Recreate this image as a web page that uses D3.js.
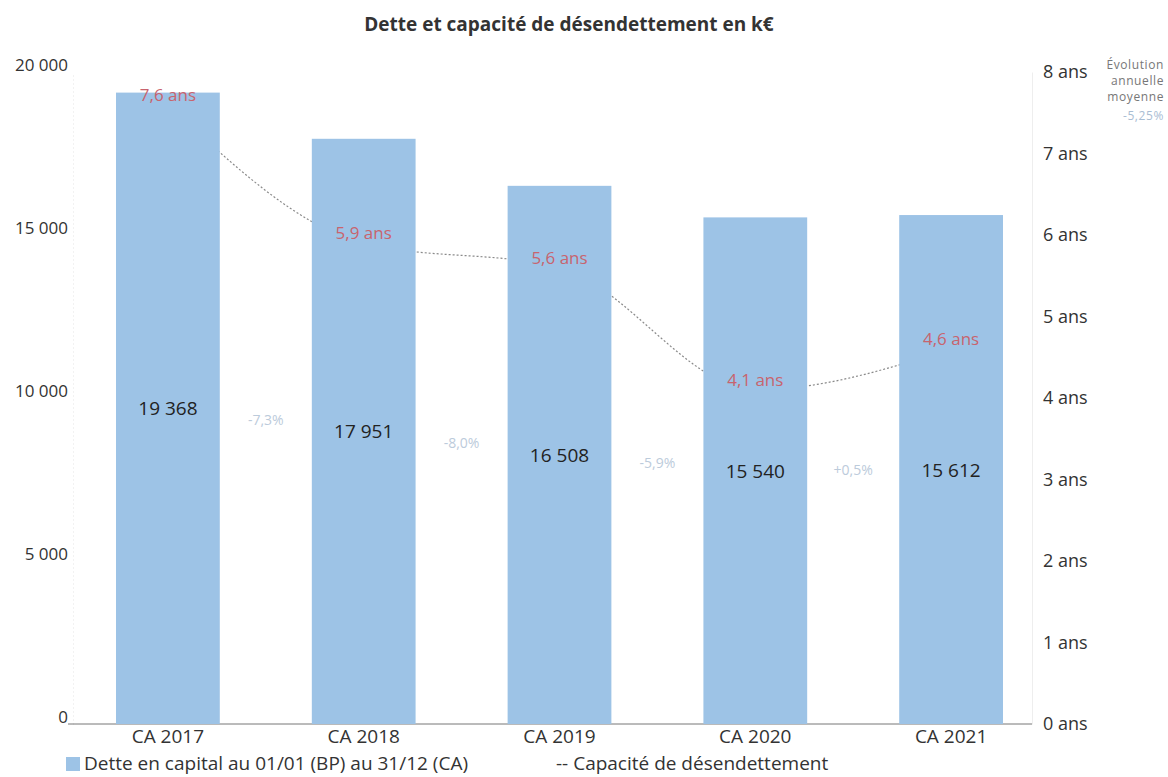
<!DOCTYPE html>
<meta charset="utf-8">
<style>
    html, body { margin: 0; padding: 0; background: #fff; }
    svg, svg text { font-family: 'Open Sans', sans-serif; }
    .title { font-size: 19px; font-weight: bold; fill: #333; }
    .tick text { font-size: 17px; fill: #333; font-family: 'Open Sans', sans-serif; }
    .right .tick text { font-size: 18px; }
    .valLabel { font-size: 19px; fill: #222; }
    .ansLabel { font-size: 17px; fill: #c8646e; }
    .pctLabel { font-size: 14px; fill: #bccbdb; }
    .legend { font-size: 19px; fill: #333; }
    .xLabel { font-size: 19px; fill: #333; }
    .note { font-size: 12px; letter-spacing: 0.6px; }
</style>
<html>
<head>
    <title>Dette et capacité de désendettement</title>
    <script src="https://d3js.org/d3.v7.min.js"></script>
</head>
<body>
<div id="chart"></div>
<script>
    // data
    var years = ["CA 2017", "CA 2018", "CA 2019", "CA 2020", "CA 2021"];
    var dette = [19368, 17951, 16508, 15540, 15612];
    var capacite = [7.6, 5.9, 5.6, 4.1, 4.6];
    var evolution = ["-7,3%", "-8,0%", "-5,9%", "+0,5%"];
    var leftTicks = [0, 5000, 10000, 15000, 20000];
    var rightTicks = [0, 1, 2, 3, 4, 5, 6, 7, 8];

    var width = 1168, height = 777;
    var svg = d3.select("#chart").append("svg")
        .attr("width", width).attr("height", height);

    var x = d3.scaleBand().domain(years).range([70, 1049]).paddingInner(0.47).paddingOuter(0.235);
    var yL = d3.scaleLinear().domain([0, 20000]).range([724, 72]);
    var yR = d3.scaleLinear().domain([0, 8]).range([724, 72]);

    var fmt = function (v) { return d3.format(",")(v).replace(/,/g, " "); };

    svg.append("text").attr("class", "title")
        .attr("x", 569).attr("y", 31).attr("text-anchor", "middle")
        .text("Dette et capacité de désendettement en k€");

    // left axis
    var gL = svg.append("g").attr("transform", "translate(73,0)")
        .call(d3.axisLeft(yL).tickValues(leftTicks).tickFormat(fmt).tickSize(0).tickPadding(5));
    gL.attr("font-family", null).attr("font-size", null);
    gL.select(".domain").attr("stroke", "#e4e4e4").attr("stroke-dasharray", "1,3");
    gL.selectAll(".tick text").attr("dy", "-0.1em");

    // right axis
    var gR = svg.append("g").attr("class", "right").attr("transform", "translate(1032,0)")
        .call(d3.axisRight(yR).tickValues(rightTicks).tickFormat(function (d) { return d + " ans"; }).tickSize(0).tickPadding(11));
    gR.attr("font-family", null).attr("font-size", null);
    gR.select(".domain").attr("stroke", "#eeeeee");

    // baseline
    svg.append("line").attr("x1", 68).attr("x2", 1032)
        .attr("y1", yL(0)).attr("y2", yL(0))
        .attr("stroke", "#777").attr("stroke-width", 1);

    // capacity line, drawn behind bars
    var line = d3.line()
        .x(function (d, i) { return x(years[i]) + x.bandwidth() / 2; })
        .y(function (d) { return yR(d); })
        .curve(d3.curveMonotoneX);
    svg.append("path").datum(capacite)
        .attr("d", line).attr("fill", "none")
        .attr("stroke", "#8a8a8a").attr("stroke-width", 1.2)
        .attr("stroke-dasharray", "2,2");

    // bars
    svg.selectAll(".bar").data(dette).enter().append("rect")
        .attr("class", "bar")
        .attr("x", function (d, i) { return x(years[i]); })
        .attr("width", x.bandwidth())
        .attr("y", function (d) { return yL(d); })
        .attr("height", function (d) { return yL(0) - yL(d); })
        .attr("fill", "#9dc3e6");

    // values inside bars
    svg.selectAll(".valLabel").data(dette).enter().append("text")
        .attr("class", "valLabel")
        .attr("x", function (d, i) { return x(years[i]) + x.bandwidth() / 2; })
        .attr("y", function (d) { return (yL(d) + yL(0)) / 2 + 7; })
        .attr("text-anchor", "middle")
        .text(fmt);

    // capacity labels
    svg.selectAll(".ansLabel").data(capacite).enter().append("text")
        .attr("class", "ansLabel")
        .attr("x", function (d, i) { return x(years[i]) + x.bandwidth() / 2; })
        .attr("y", function (d) { return yR(d) - 4; })
        .attr("text-anchor", "middle")
        .text(function (d) { return String(d).replace(".", ",") + " ans"; });

    // evolution between bars
    svg.selectAll(".pctLabel").data(evolution).enter().append("text")
        .attr("class", "pctLabel")
        .attr("x", function (d, i) { return (x(years[i]) + x(years[i + 1])) / 2 + x.bandwidth() / 2; })
        .attr("y", function (d, i) {
            var a = (yL(dette[i]) + yL(0)) / 2, b = (yL(dette[i + 1]) + yL(0)) / 2;
            return (a + b) / 2 + 5;
        })
        .attr("text-anchor", "middle")
        .text(function (d) { return d; });

    // x labels
    svg.selectAll(".xLabel").data(years).enter().append("text")
        .attr("class", "xLabel")
        .attr("x", function (d) { return x(d) + x.bandwidth() / 2; })
        .attr("y", 743).attr("text-anchor", "middle")
        .text(function (d) { return d; });

    // top-right note
    var note = svg.append("g").attr("text-anchor", "end");
    ["Évolution", "annuelle", "moyenne"].forEach(function (t, i) {
        note.append("text").attr("class", "note").attr("x", 1164).attr("y", 69 + i * 16)
            .attr("fill", "#777").text(t);
    });
    note.append("text").attr("class", "note").attr("x", 1164).attr("y", 120)
        .attr("fill", "#a9bdd3").text("-5,25%");

    // legend
    svg.append("rect").attr("x", 66).attr("y", 757).attr("width", 14).attr("height", 14).attr("fill", "#9dc3e6");
    svg.append("text").attr("class", "legend").attr("x", 84).attr("y", 770)
        .text("Dette en capital au 01/01 (BP) au 31/12 (CA)");
    svg.append("text").attr("class", "legend").attr("x", 556).attr("y", 770)
        .text("-- Capacité de désendettement");
</script>
</body>
</html>
